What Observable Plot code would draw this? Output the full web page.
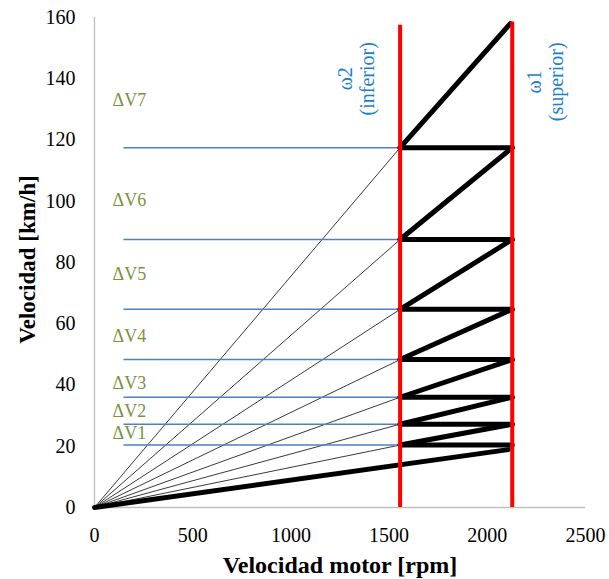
<!DOCTYPE html>
<html>
<head>
<meta charset="utf-8">
<script src="https://cdn.jsdelivr.net/npm/d3@7"></script>
<script src="https://cdn.jsdelivr.net/npm/@observablehq/plot@0.6"></script>
<style>
  html, body { margin: 0; padding: 0; background: #fff; }
  #chart { width: 609px; height: 579px; }
</style>
</head>
<body>
<div id="chart"></div>
<script>
// ---- data ----
const xTicks = [0, 500, 1000, 1500, 2000, 2500];
const yTicks = [0, 20, 40, 60, 80, 100, 120, 140, 160];
const shiftRpm = [1556, 2127];            // ω2 (inferior), ω1 (superior)
const shiftNames = ["ω2\n(inferior)", "ω1\n(superior)"];
const shiftLabelRpm = [1332, 2296];
const shiftLabelSpeed = [140, 139];
const levelSpeeds = [20.4, 27.2, 36.0, 48.3, 64.7, 87.5, 117.5]; // ΔV1..ΔV7 levels
const topSpeed = 158;
const topRpm = 2117;
const firstGearEnd = [2107, 18.9];
const blueStartRpm = 150;
const deltaLabels = ["ΔV1", "ΔV2", "ΔV3", "ΔV4", "ΔV5", "ΔV6", "ΔV7"];
const deltaLabelSpeed = [24.2, 31.3, 40.5, 55.8, 76.1, 100.2, 132.9];
const deltaLabelRpm = 92;

// ---- derived tables ----
const [wLow, wHigh] = shiftRpm;
const thin = levelSpeeds.map(v => ({x1: 0, y1: 0, x2: wLow, y2: v}));
const thick = [{x1: 0, y1: 0, x2: firstGearEnd[0], y2: firstGearEnd[1]}];
levelSpeeds.forEach((v, i) => {
  thick.push({x1: wLow, y1: v, x2: wHigh, y2: v});
  const next = i + 1 < levelSpeeds.length ? levelSpeeds[i + 1] : topSpeed;
  const nx = i + 1 < levelSpeeds.length ? wHigh : topRpm;
  thick.push({x1: wLow, y1: v, x2: nx, y2: next});
});
const deltaData = deltaLabels.map((t, i) => ({t, x: deltaLabelRpm, y: deltaLabelSpeed[i]}));
const shiftLabelData = shiftNames.map((t, i) => ({t, x: shiftLabelRpm[i], y: shiftLabelSpeed[i]}));
const redRules = [{x: wLow, y2: 157.5}, {x: wHigh, y2: 158.5}];

const chart = Plot.plot({
  width: 609,
  height: 579,
  marginLeft: 94,
  marginRight: 24,
  marginTop: 17,
  marginBottom: 72,
  style: {fontFamily: "'Liberation Serif', 'Times New Roman', serif", fontSize: "20px", color: "#000", background: "#fff"},
  x: {domain: [0, 2500]},
  y: {domain: [0, 160]},
  marks: [
    Plot.ruleY([0], {x1: 0, x2: 2500, stroke: "#bfbfbf", strokeWidth: 1.3}),
    Plot.ruleX([0], {y1: 0, y2: 160, stroke: "#bfbfbf", strokeWidth: 1.3}),
    Plot.axisX({ticks: xTicks, tickSize: 0, tickPadding: 20, label: null, fontSize: 20, tickFormat: d => String(d)}),
    Plot.axisY({ticks: yTicks, tickSize: 0, tickPadding: 19, label: null, fontSize: 20, tickFormat: d => String(d)}),
    Plot.link(thin, {x1: "x1", y1: "y1", x2: "x2", y2: "y2", stroke: "#3a3a3a", strokeWidth: 1}),
    Plot.ruleY(levelSpeeds, {x1: blueStartRpm, x2: wLow, stroke: "#4F81BD", strokeWidth: 1.5}),
    Plot.link(thick, {x1: "x1", y1: "y1", x2: "x2", y2: "y2", stroke: "#000", strokeWidth: 5, strokeLinecap: "round"}),
    Plot.ruleX(redRules, {x: "x", y1: 0, y2: "y2", stroke: "#ff0000", strokeWidth: 4}),
    Plot.text(deltaData, {x: "x", y: "y", text: "t", textAnchor: "start", fill: "#77933C", fontSize: 18}),
    Plot.text(shiftLabelData, {x: "x", y: "y", text: "t", rotate: -90, fill: "#1B7FCC", fontSize: 20, lineHeight: 1.1}),
    Plot.text(["Velocidad [km/h]"], {frameAnchor: "left", textAnchor: "middle", lineAnchor: "middle", dx: -67, dy: -3, rotate: -90, fontWeight: "bold", fontSize: 23, fill: "#000", wordSpacing: "3px"}),
    Plot.text(["Velocidad motor [rpm]"], {frameAnchor: "bottom", textAnchor: "middle", lineAnchor: "middle", dy: 58, fontWeight: "bold", fontSize: 24, fill: "#000", wordSpacing: "5px"})
  ]
});
document.getElementById("chart").appendChild(chart);
</script>
</body>
</html>
